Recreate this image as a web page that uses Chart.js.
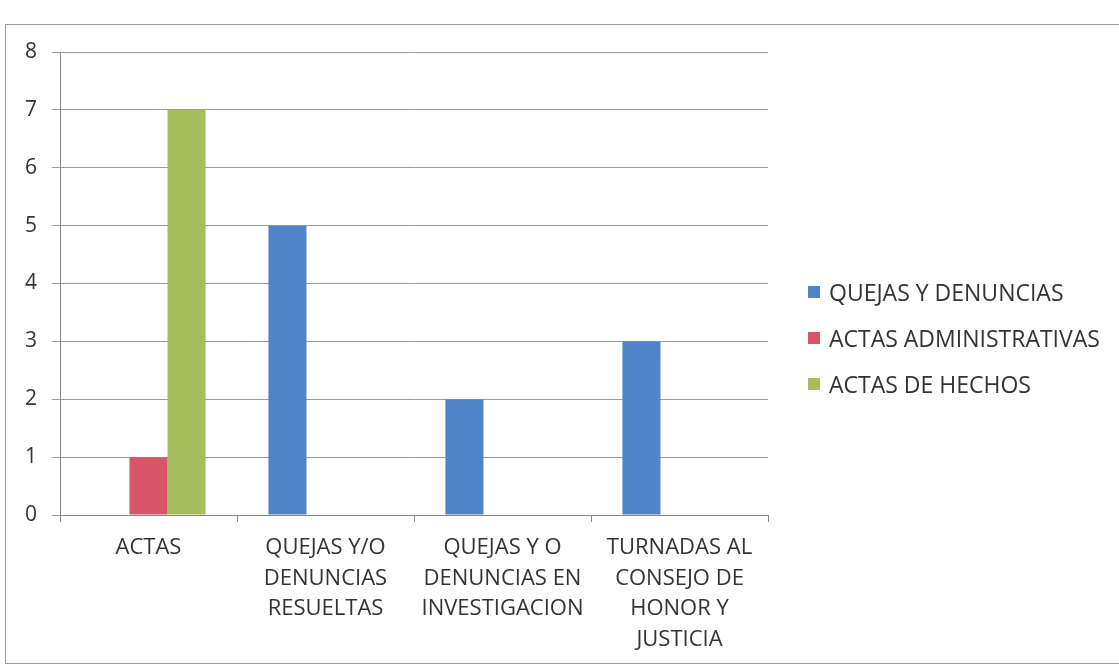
<!DOCTYPE html>
<html>
<head>
<meta charset="utf-8">
<script src="https://cdn.jsdelivr.net/npm/chart.js@4/dist/chart.umd.min.js"></script>
<style>
  html, body { margin: 0; padding: 0; background: #fff; }
  #wrap { position: relative; width: 1119px; height: 671px; overflow: hidden; background: #fff; }
  #frame { position: absolute; left: 5px; top: 24px; width: 1130px; height: 640px; border: 1px solid #9a9a9a; box-sizing: border-box; }
  #cv { position: absolute; left: 0; top: 0; }
  #legend { position: absolute; left: 808px; top: 269px; font-family: "Open Sans", sans-serif; font-size: 23px; color: #333; }
  .li { height: 46px; display: flex; align-items: center; white-space: nowrap; }
  .sw { width: 12px; height: 12px; margin-right: 9px; display: inline-block; }
</style>
</head>
<body>
<div id="wrap">
  <div id="frame"></div>
  <canvas id="cv" width="1119" height="671"></canvas>
  <div id="legend"></div>
</div>
<script>
const categories = [
  ["ACTAS"],
  ["QUEJAS Y/O", "DENUNCIAS", "RESUELTAS"],
  ["QUEJAS Y O", "DENUNCIAS EN", "INVESTIGACION"],
  ["TURNADAS AL", "CONSEJO DE", "HONOR Y", "JUSTICIA"]
];
const seriesNames = ["QUEJAS Y DENUNCIAS", "ACTAS ADMINISTRATIVAS", "ACTAS DE HECHOS"];
const quejasDenuncias = [null, 5, 2, 3];
const actasAdministrativas = [1, null, null, null];
const actasHechos = [7, null, null, null];
const yTicks = [0, 1, 2, 3, 4, 5, 6, 7, 8];
const colors = ["#4f84c9", "#d95568", "#a6bf5c"];

const seriesValues = [quejasDenuncias, actasAdministrativas, actasHechos];
const FONT = '"Open Sans", sans-serif';

const legend = document.getElementById('legend');
seriesNames.forEach((n, i) => {
  const d = document.createElement('div');
  d.className = 'li';
  d.innerHTML = '<span class="sw" style="background:' + colors[i] + '"></span><span>' + n + '</span>';
  legend.appendChild(d);
});

new Chart(document.getElementById('cv'), {
  type: 'bar',
  data: {
    labels: categories,
    datasets: seriesNames.map((n, i) => ({
      label: n,
      data: seriesValues[i],
      backgroundColor: colors[i],
      borderWidth: 0,
      categoryPercentage: 0.645,
      barPercentage: 1.0
    }))
  },
  options: {
    responsive: false,
    animation: false,
    layout: { padding: { left: 0, right: 351, top: 52, bottom: 8 } },
    plugins: { legend: { display: false }, tooltip: { enabled: false } },
    scales: {
      x: {
        grid: { display: true, drawOnChartArea: false, drawTicks: true, tickLength: 7, offset: true, color: '#8a8a8a' },
        border: { display: true, color: '#8a8a8a', width: 1 },
        ticks: { font: { family: FONT, size: 22, lineHeight: 1.38 }, color: '#333', padding: 11, maxRotation: 0, autoSkip: false },
        afterFit: s => { s.height = 148; }
      },
      y: {
        min: 0, max: 8,
        afterBuildTicks: s => { s.ticks = yTicks.map(v => ({ value: v })); },
        grid: { color: '#9a9a9a', tickLength: 8, drawTicks: true },
        border: { display: true, color: '#8a8a8a', width: 1 },
        ticks: { font: { family: FONT, size: 21 }, color: '#333', padding: 15 },
        afterFit: s => { s.width = 60; }
      }
    }
  }
});
</script>
</body>
</html>
